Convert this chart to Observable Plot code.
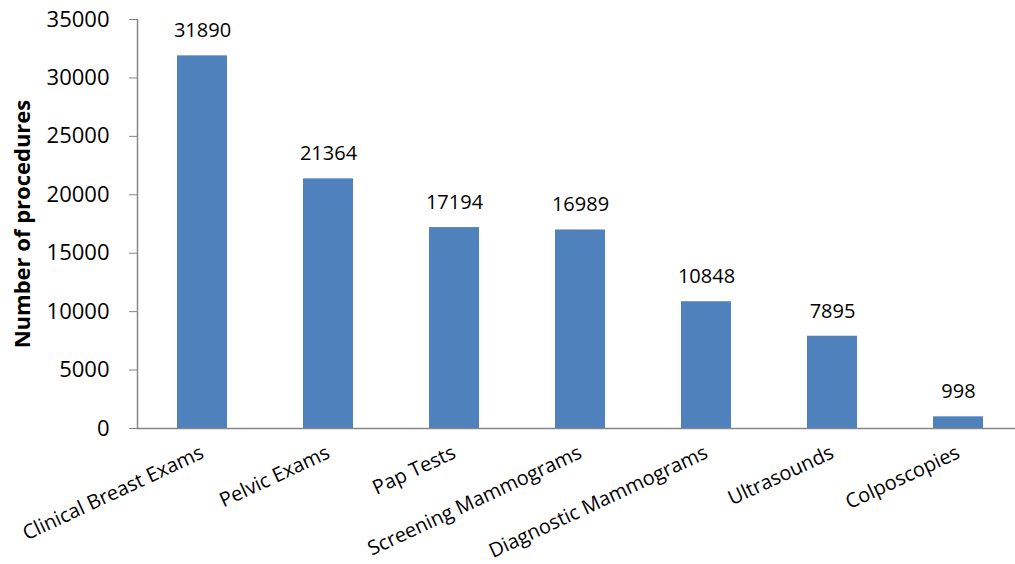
<!DOCTYPE html>
<html>
<head>
<meta charset="utf-8">
<script src="https://cdn.jsdelivr.net/npm/d3@7"></script>
<script src="https://cdn.jsdelivr.net/npm/@observablehq/plot@0.6"></script>
<style>
  html, body { margin: 0; padding: 0; background: #fff; }
  #chart svg { display: block; }
</style>
</head>
<body>
<div id="chart"></div>
<script>
const categories = ["Clinical Breast Exams", "Pelvic Exams", "Pap Tests", "Screening Mammograms", "Diagnostic Mammograms", "Ultrasounds", "Colposcopies"];
const values = [31890, 21364, 17194, 16989, 10848, 7895, 998];
const yTicks = [0, 5000, 10000, 15000, 20000, 25000, 30000, 35000];

const data = categories.map((c, i) => ({category: c, value: values[i]}));
const font = "'Open Sans', sans-serif";

const chart = Plot.plot({
  width: 1015,
  height: 564,
  marginLeft: 137,
  marginRight: 0,
  marginTop: 19,
  marginBottom: 136,
  style: {fontFamily: font, background: "#fff", color: "#000"},
  x: {domain: categories, range: [137, 1024], paddingInner: 0.6, paddingOuter: 0.3, label: null},
  y: {domain: [0, 35000], label: null},
  marks: [
    Plot.barY(data, {x: "category", y: "value", fill: "#4F81BD"}),
    Plot.ruleY([0], {stroke: "#868686", strokeWidth: 1.5}),
    Plot.frame({anchor: "left", stroke: "#868686", strokeWidth: 1.5}),
    Plot.axisY({ticks: yTicks, tickSize: 8, tickPadding: 20, tickFormat: d => String(d), fontSize: 22, stroke: "#868686", label: null}),
    Plot.axisX({tickSize: 0, tickRotate: -25, tickPadding: 23, fontSize: 20, label: null}),
    Plot.text(data, {x: "category", y: "value", text: d => String(d.value), dy: -25, fontSize: 20, fill: "#000"}),
    Plot.text(["Number of procedures"], {frameAnchor: "left", textAnchor: "middle", dx: -115, rotate: -90, fontSize: 22, fontWeight: "bold", fill: "#000"})
  ]
});
document.getElementById("chart").appendChild(chart);
</script>
</body>
</html>
